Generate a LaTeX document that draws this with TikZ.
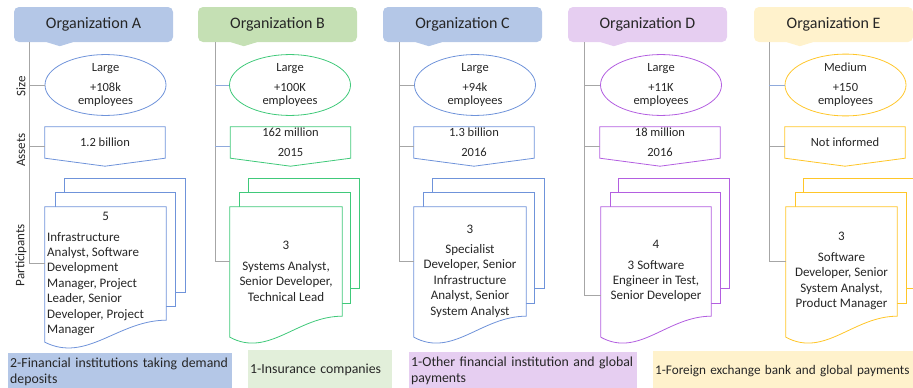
\documentclass[tikz,border=0pt]{standalone}
\usepackage{fontspec}
\setmainfont{Carlito}
\usetikzlibrary{shapes.geometric}
\usetikzlibrary{positioning}

\definecolor{txt}{HTML}{262626}
\definecolor{stemgray}{HTML}{A6A6A6}
\definecolor{stemblue}{HTML}{8FAADC}
\definecolor{blueFill}{HTML}{B4C7E7}
\definecolor{blueLine}{HTML}{6F93DA}
\definecolor{greenFill}{HTML}{C5E0B4}
\definecolor{greenLeg}{HTML}{E2EFDA}
\definecolor{greenLine}{HTML}{40C97A}
\definecolor{purpleFill}{HTML}{E6CEF1}
\definecolor{purpleLine}{HTML}{B35FE0}
\definecolor{yellowFill}{HTML}{FFF2CC}
\definecolor{yellowLine}{HTML}{FFC629}

\tikzset{
  head/.style={fill=#1, minimum width=159pt, minimum height=35pt, rounded corners=5pt,
    inner sep=0pt, text=txt, font=\fontsize{16}{19}\selectfont},
  sizeell/.style={ellipse, draw=#1, line width=0.8pt, minimum width=121pt, minimum height=58pt,
    inner sep=0pt, align=center, text=txt, font=\fontsize{12.5}{13}\selectfont},
  assetbox/.style={minimum width=120pt, minimum height=31pt, inner sep=0pt, align=center,
    text=txt, font=\fontsize{12.5}{13}\selectfont},
  assetline/.style={draw=#1, line width=0.8pt},
  sheet/.style={draw=#1, line width=0.8pt, fill=white},
  pagebox/.style={minimum height=#1, inner sep=0pt},
  parttext/.style={align=center, inner sep=0pt, text=txt, font=\fontsize{13}{15.4}\selectfont},
  stem/.style={draw=#1, line width=0.9pt},
  stem/.default=stemgray,
  sidelabel/.style={rotate=90, inner sep=0pt, text=txt, font=\fontsize{13}{15}\selectfont},
  legbox/.style={fill=#1, anchor=north west, inner xsep=2pt, inner ysep=0pt, align=left,
    text=txt, font=\fontsize{13.8}{16}\selectfont}
}

\begin{document}
\begin{tikzpicture}[x=1pt,y=-1pt]
\useasboundingbox (0,0) rectangle (913,388);

% Organization A
\node[head=blueFill] (orgA) at (93.5,24.5) {Organization A};
\fill[blueFill] ([xshift=33pt]orgA.south west) -- ++(13,4) -- ++(13,-4) -- cycle;
\coordinate (trunkA) at (29,42);
\node[sizeell=blueLine] (sizeA) at (105.5,85) {Large\\[7pt]+108k\\employees};
\node[assetbox] (assetsA) at (105,142.5) {1.2 billion};
\draw[assetline=blueLine] (assetsA.north west) -- (assetsA.north east) -- (assetsA.south east)
  -- ([yshift=-8pt]assetsA.south) -- (assetsA.south west) -- cycle;
\draw[sheet=blueLine] (64,178) rectangle (185,292);
\draw[sheet=blueLine] (55,192) rectangle (175,306);
\node[pagebox=113pt, minimum width=121pt] (pageA) at (105.5,263.5) {};
\draw[sheet=blueLine] (pageA.north west) -- (pageA.north east) -- (pageA.south east)
  .. controls +(-48,0) and +(42,21) .. ([yshift=-22pt]pageA.south west) -- cycle;
\node[parttext, align=left, anchor=west] (partA) at (47,274) {\makebox[117pt]{5}\\[5pt]Infrastructure\\Analyst, Software\\Development\\Manager, Project\\Leader, Senior\\Developer, Project\\Manager};
\draw[stem] (trunkA) |- (pageA.west);
\draw[stem] (trunkA |- sizeA.west) -- (sizeA.west);
\draw[stem] (trunkA |- assetsA.west) ++(0,4) -- ([yshift=-4pt]assetsA.west);
\node[sidelabel] (lblSize) at (21,86) {Size};
\node[sidelabel] (lblAssets) at (21,150) {Assets};
\node[sidelabel] (lblPart) at (21,255) {Participants};

% Organization B
\node[head=greenFill] (orgB) at (277.5,24.5) {Organization B};
\fill[greenFill] ([xshift=33pt]orgB.south west) -- ++(13,4) -- ++(13,-4) -- cycle;
\coordinate (trunkB) at (215,42);
\node[sizeell=greenLine] (sizeB) at (290,85) {Large\\[7pt]+100K\\employees};
\node[assetbox] (assetsB) at (290.5,142.5) {162 million\\[7pt]2015};
\draw[assetline=greenLine] (assetsB.north west) -- (assetsB.north east) -- (assetsB.south east)
  -- ([yshift=-8pt]assetsB.south) -- (assetsB.south west) -- cycle;
\draw[sheet=greenLine] (248,178) rectangle (359,288);
\draw[sheet=greenLine] (239,192) rectangle (350,303);
\node[pagebox=109pt, minimum width=112pt] (pageB) at (286,261.5) {};
\draw[sheet=greenLine] (pageB.north west) -- (pageB.north east) -- (pageB.south east)
  .. controls +(-45,0) and +(39,21) .. ([yshift=-21pt]pageB.south west) -- cycle;
\node[parttext] (partB) at (286,271) {3\\[5.5pt]Systems Analyst,\\Senior Developer,\\Technical Lead};
\draw[stem] (trunkB) |- (pageB.west);
\draw[stem=stemblue] (trunkB |- sizeB.west) -- (sizeB.west);
\draw[stem=stemblue] (trunkB |- assetsB.west) ++(0,4) -- ([yshift=-4pt]assetsB.west);

% Organization C
\node[head=blueFill] (orgC) at (462.5,24.5) {Organization C};
\fill[blueFill] ([xshift=33pt]orgC.south west) -- ++(13,4) -- ++(13,-4) -- cycle;
\coordinate (trunkC) at (399,42);
\node[sizeell=blueLine] (sizeC) at (475,85) {Large\\[7pt]+94k\\employees};
\node[assetbox] (assetsC) at (474,142.5) {1.3 billion\\[7pt]2016};
\draw[assetline=blueLine] (assetsC.north west) -- (assetsC.north east) -- (assetsC.south east)
  -- ([yshift=-8pt]assetsC.south) -- (assetsC.south west) -- cycle;
\draw[sheet=blueLine] (432,178) rectangle (544,288);
\draw[sheet=blueLine] (423,192) rectangle (534,303);
\node[pagebox=109pt, minimum width=112pt] (pageC) at (470,261.5) {};
\draw[sheet=blueLine] (pageC.north west) -- (pageC.north east) -- (pageC.south east)
  .. controls +(-45,0) and +(39,21) .. ([yshift=-21pt]pageC.south west) -- cycle;
\node[parttext] (partC) at (470,271) {3\\[5pt]Specialist\\Developer, Senior\\Infrastructure\\Analyst, Senior\\System Analyst};
\draw[stem] (trunkC) |- (pageC.west);
\draw[stem] (trunkC |- sizeC.west) -- (sizeC.west);
\draw[stem] (trunkC |- assetsC.west) ++(0,4) -- ([yshift=-4pt]assetsC.west);

% Organization D
\node[head=purpleFill] (orgD) at (647.5,24.5) {Organization D};
\fill[purpleFill] ([xshift=33pt]orgD.south west) -- ++(13,4) -- ++(13,-4) -- cycle;
\coordinate (trunkD) at (584,42);
\node[sizeell=purpleLine] (sizeD) at (661,85) {Large\\[7pt]+11K\\employees};
\node[assetbox] (assetsD) at (660,142.5) {18 million\\[7pt]2016};
\draw[assetline=purpleLine] (assetsD.north west) -- (assetsD.north east) -- (assetsD.south east)
  -- ([yshift=-8pt]assetsD.south) -- (assetsD.south west) -- cycle;
\draw[sheet=purpleLine] (618,178) rectangle (729,288);
\draw[sheet=purpleLine] (610,192) rectangle (720,303);
\node[pagebox=109pt, minimum width=110pt] (pageD) at (656,261.5) {};
\draw[sheet=purpleLine] (pageD.north west) -- (pageD.north east) -- (pageD.south east)
  .. controls +(-44,0) and +(38,21) .. ([yshift=-21pt]pageD.south west) -- cycle;
\node[parttext] (partD) at (656,271) {4\\[5.5pt]3 Software\\Engineer in Test,\\Senior Developer};
\draw[stem] (trunkD) |- ([yshift=-34pt]pageD.west);
\draw[stem] (trunkD |- sizeD.west) -- (sizeD.west);
\draw[stem] (trunkD |- assetsD.west) ++(0,4) -- ([yshift=-4pt]assetsD.west);

% Organization E
\node[head=yellowFill] (orgE) at (833.5,24.5) {Organization E};
\fill[yellowFill] ([xshift=33pt]orgE.south west) -- ++(13,4) -- ++(13,-4) -- cycle;
\coordinate (trunkE) at (769,42);
\node[sizeell=yellowLine] (sizeE) at (845.5,85) {Medium\\[7pt]+150\\employees};
\node[assetbox] (assetsE) at (845,142.5) {Not informed};
\draw[assetline=yellowLine] (assetsE.north west) -- (assetsE.north east) -- (assetsE.south east)
  -- ([yshift=-8pt]assetsE.south) -- (assetsE.south west) -- cycle;
\draw[sheet=yellowLine] (803,178) rectangle (916,288);
\draw[sheet=yellowLine] (795,192) rectangle (906,303);
\node[pagebox=109pt, minimum width=111pt] (pageE) at (841.5,261.5) {};
\draw[sheet=yellowLine] (pageE.north west) -- (pageE.north east) -- (pageE.south east)
  .. controls +(-44,0) and +(39,21) .. ([yshift=-21pt]pageE.south west) -- cycle;
\node[parttext] (partE) at (841.5,271) {3\\[5.5pt]Software\\Developer, Senior\\System Analyst,\\Product Manager};
\draw[stem] (trunkE) |- (pageE.west);
\draw[stem=stemblue] (trunkE |- sizeE.west) -- (sizeE.west);
\draw[stem] (trunkE |- assetsE.west) ++(0,4) -- ([yshift=-4pt]assetsE.west);

% legend strips
\node[legbox=blueFill, text width=220pt, minimum height=37pt] (legA) at (8,353) {2-Financial institutions taking demand\\deposits};
\node[legbox=greenLeg, text width=140pt, minimum height=40pt] (legB) at (248,350) {1-Insurance companies};
\node[legbox=purpleFill, text width=224pt, minimum height=38pt] (legD) at (409,352) {1-Other financial institution and global\\payments};
\node[legbox=yellowFill, text width=300pt, minimum height=39pt, font=\fontsize{13.2}{16}\selectfont] (legE) at (653,351) {1-Foreign exchange bank and global payments};

\end{tikzpicture}
\end{document}
